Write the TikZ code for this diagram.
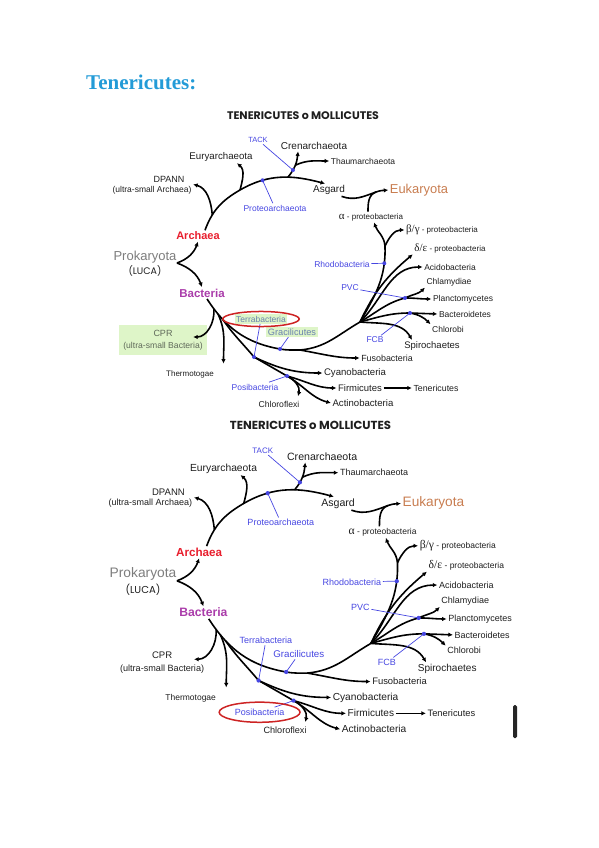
\documentclass[tikz,border=0pt]{standalone}
\usepackage{fontspec}
\setmainfont{Liberation Sans}
\newfontfamily\titlefont{Liberation Serif}
\newfontfamily\greekfont{Liberation Serif}
\newfontfamily\headfont{Poppins}
\usepackage{tikz}
\usetikzlibrary{arrows.meta, positioning, calc, fit, backgrounds, shapes.geometric}
\definecolor{cladeblue}{RGB}{70, 70, 225}
\definecolor{archred}{RGB}{232, 30, 45}
\definecolor{bactpurple}{RGB}{170, 60, 170}
\definecolor{eukbrown}{RGB}{200, 125, 80}
\definecolor{prokgray}{RGB}{125, 125, 125}
\definecolor{titleblue}{RGB}{35, 155, 215}
\definecolor{hlgreen}{RGB}{222, 245, 200}
\definecolor{hltext}{RGB}{105, 130, 175}
\definecolor{hlgray}{RGB}{95, 105, 90}
\definecolor{ringred}{RGB}{205, 35, 35}
\definecolor{leafgray}{RGB}{30, 30, 30}
\newcommand{\fsz}[1]{\fontsize{#1}{#1}\selectfont}

\tikzset{
  tree/.pic={
    % headline
    \node[head] (-head) at (303,-116) {TENERICUTES o MOLLICUTES};
    % big groups
    \node[leaf, font=\fsz{13}, text=prokgray] (-proka) at (145,-257) {Prokaryota};
    \node[leaf, font=\headfont\fsz{9.5}] (-luca) at (145,-271) {(LUCA)};
    \node[leaf, font=\bfseries\fsz{11}, text=archred] (-arch) at (198,-236) {Archaea};
    \node[leaf, font=\bfseries\fsz{11.5}, text=bactpurple] (-bact) at (202,-293) {Bacteria};
    \node[leaf, font=\fsz{12.9}, text=eukbrown] (-euk) at (419,-190) {Eukaryota};
    % archaea
    \node[leaf, font=\fsz{9}] (-dpann) at (169,-179) {DPANN};
    \node[leaf] (-dpann2) at (152,-190) {(ultra-small Archaea)};
    \node[leaf, font=\fsz{9.7}] (-eury) at (221,-157) {Euryarchaeota};
    \node[clade, font=\fsz{7.5}] (-tack) at (258,-140) {TACK};
    \node[leaf, font=\fsz{10}] (-cren) at (314,-146) {Crenarchaeota};
    \node[leaf] (-thaum) at (363,-161) {Thaumarchaeota};
    \node[clade] (-proteo) at (275,-208) {Proteoarchaeota};
    \node[leaf, font=\fsz{10}] (-asg) at (329,-190) {Asgard};
    % proteobacteria and friends
    \node[leaf, font=\fsz{8}] (-alpha) at (371,-217) {{\greekfont\fsz{11}α} - proteobacteria};
    \node[leaf, font=\fsz{8}] (-bg) at (442,-230) {{\greekfont\fsz{11}β/γ} - proteobacteria};
    \node[leaf, font=\fsz{8}] (-de) at (450,-248) {{\greekfont\fsz{11}δ/ε} - proteobacteria};
    \node[clade] (-rhodo) at (342,-264) {Rhodobacteria};
    \node[leaf] (-acido) at (450,-267) {Acidobacteria};
    \node[leaf] (-chlam) at (449,-282) {Chlamydiae};
    \node[leaf] (-planc) at (463,-299) {Planctomycetes};
    \node[clade] (-pvc) at (350,-288) {PVC};
    \node[leaf] (-bactd) at (465,-314) {Bacteroidetes};
    \node[leaf] (-chlorobi) at (448,-329) {Chlorobi};
    \node[clade] (-fcb) at (375,-340) {FCB};
    \node[leaf, font=\fsz{9.5}] (-spiro) at (432,-346) {Spirochaetes};
    \node[leaf, font=\fsz{8.9}] (-fuso) at (387,-358) {Fusobacteria};
    \node[leaf, font=\fsz{9.6}] (-cyano) at (355,-373) {Cyanobacteria};
    \node[leaf, font=\fsz{9.5}] (-firmi) at (360,-388) {Firmicutes};
    \node[leaf, font=\fsz{8.8}] (-tener) at (436,-388) {Tenericutes};
    \node[leaf, font=\fsz{9.6}] (-actino) at (363,-403) {Actinobacteria};
    \node[leaf, font=\fsz{8.6}] (-chloro) at (279,-404) {Chloroflexi};
    \node[clade] (-posi) at (255,-387) {Posibacteria};
    \node[leaf, font=\fsz{8}] (-thermo) at (190,-374) {Thermotogae};
    \node[cprlbl, font=\fsz{9}] (-cpr) at (163,-333) {CPR};
    \node[cprlbl, font=\fsz{8.6}] (-cpr2) at (163,-346) {(ultra-small Bacteria)};
    \node[terralbl] (-terra) at (261,-319) {Terrabacteria};
    \node[terralbl, font=\fsz{9.2}] (-graci) at (292,-332) {Gracilicutes};
    % junctions
    \coordinate (-root) at (177,-263);
    \coordinate (-ar2) at (240,-190);
    \coordinate (-ek) at (376,-192);
    \coordinate (-pf) at (385,-246);
    \coordinate (-hub) at (360,-322);
    \coordinate (-pvcdot) at (405,-298);
    \coordinate (-fcbdot) at (410,-313);
    \coordinate (-gdot) at (280,-349);
    \coordinate (-bj) at (300,-350);
    \coordinate (-terradot) at (254,-357);
    \coordinate (-posidot) at (287,-376);
    % root split
    \draw[arrow] (-root) to[out=20,in=-110] (-arch.south);
    \draw[arrow] (-root) to[out=-20,in=110] (-bact.north);
    % archaea
    \draw[arrow] ([xshift=7pt]-arch.north) to[out=70,in=-150] coordinate[pos=.3] (-ar1) (-ar2)
      to[out=30,in=165] coordinate[pos=.27] (-pdot) coordinate[pos=.58] (-ar3) ([xshift=-4pt]-asg.north);
    \draw[arrow] (-ar1) to[out=95,in=-15] (-dpann2.north east);
    \draw[arrow] (-ar2) to[out=75,in=-40] ([xshift=16pt]-eury.south);
    \draw[arrow] (-ar3) to[out=50,in=-95] coordinate[pos=.3] (-tdot) coordinate[pos=.5] (-tfork) ([xshift=-16pt]-cren.south);
    \draw[arrow] (-tfork) to[out=25,in=180] (-thaum.west);
    \draw[arrow] ([xshift=-5pt]-asg.south east) to[out=-20,in=200] (-ek) to[out=20,in=185] (-euk.west);
    \draw[branch] ([xshift=-3pt]-alpha.north) to[out=90,in=200] (-ek);
    % proteobacteria
    \draw[arrow] (-hub) to[out=60,in=-88] coordinate[pos=.8] (-rdot) (-pf) to[out=95,in=-70] ([xshift=3pt]-alpha.south);
    \draw[arrow] (-pf) to[out=65,in=180] (-bg.west);
    \draw[arrow] (-hub) to[out=65,in=-140] (-de.south west);
    \draw[arrow] (-hub) to[out=45,in=180] (-acido.west);
    \draw[branch] (-hub) to[out=30,in=195] (-pvcdot);
    \draw[arrow] (-pvcdot) to[out=25,in=-135] (-chlam.south west);
    \draw[arrow] (-pvcdot) to[out=0,in=180] (-planc.west);
    \draw[branch] (-hub) to[out=15,in=180] (-fcbdot);
    \draw[arrow] (-fcbdot) -- (-bactd.west);
    \draw[arrow] (-fcbdot) to[out=-10,in=135] (-chlorobi.north west);
    \draw[arrow] (-hub) to[out=-5,in=120] ([xshift=-20pt]-spiro.north);
    % bacteria
    \draw[branch] ([xshift=5pt]-bact.south) to[out=-57,in=170] coordinate[pos=.12] (-b1) coordinate[pos=.19] (-b2) coordinate[pos=.27] (-b3) (-gdot)
      to[out=-10,in=180] (-bj) to[out=5,in=-150] (-hub);
    \draw[arrow] (-bj) to[out=-10,in=180] (-fuso.west);
    \draw[arrow] (-b1) to[out=-85,in=0] ([shift={(19pt,-4pt)}]-cpr.east);
    \draw[arrow] (-b2) to[out=-65,in=90] ([shift={(8pt,5pt)}]-thermo.north east);
    \draw[branch] (-b3) to[out=-55,in=130] (-terradot);
    \draw[arrow] (-terradot) to[out=-25,in=180] (-cyano.west);
    \draw[branch] (-terradot) to[out=-30,in=150] (-posidot);
    \draw[arrow] (-posidot) to[out=-15,in=180] (-firmi.west);
    \draw[arrow] (-posidot) to[out=-30,in=165] (-actino.west);
    \draw[arrow] (-posidot) to[out=-25,in=75] ([shift={(-3pt,3pt)}]-chloro.north east);
    \draw[arrow] (-firmi.east) -- (-tener.west);
    % blue pointers
    \draw[pointer] (-tack) -- (-tdot);
    \draw[pointer] (-proteo) -- (-pdot);
    \draw[pointer] (-rhodo) -- (-rdot);
    \draw[pointer] (-pvc) -- (-pvcdot);
    \draw[pointer] (-fcb) -- (-fcbdot);
    \draw[pointer] (-terra) -- (-terradot);
    \draw[pointer] (-graci) -- (-gdot);
    \draw[pointer] (-posi) -- (-posidot);
    \foreach \d in {tdot,pdot,rdot,pvcdot,fcbdot,gdot,terradot,posidot}
      \fill[cladeblue] (-\d) circle (2pt);
  }
}

\begin{document}
\begin{tikzpicture}[
    x=1pt, y=1pt,
    leaf/.style={font=\fsz{8.5}, text=leafgray, inner sep=1.5pt},
    clade/.style={leaf, text=cladeblue},
    terralbl/.style={clade},
    cprlbl/.style={leaf},
    head/.style={font=\headfont\bfseries\fsz{11}, text=leafgray, inner sep=1pt},
    branch/.style={line width=1.6pt, black},
    arrow/.style={branch, -{Latex[length=4.5pt, width=4.5pt]}},
    pointer/.style={cladeblue, line width=0.7pt},
    ring/.style={ellipse, draw=ringred, line width=1.5pt, inner sep=0.5pt},
    hlbox/.style={rectangle, fill=hlgreen, inner sep=3pt}
  ]
  \useasboundingbox (0,0) rectangle (599,-848);
  \node[font=\titlefont\bfseries\fsz{21}, text=titleblue, anchor=base west, inner sep=0pt] (title) at (86,-90) {Tenericutes:};

  \pic[terralbl/.style={clade, text=hltext, fill=hlgreen}, cprlbl/.style={leaf, text=hlgray}] (t) at (0,0) {tree};
  \pic[scale=1.06, transform shape] (b) at (-10.7,-302) {tree};

  \begin{scope}[on background layer]
    \node[hlbox, fit=(t-cpr)(t-cpr2)] (t-cprbox) {};
  \end{scope}
  \node[ring, fit=(t-terra)] (t-ring) {};
  \node[ring, fit=(b-posi), inner sep=2pt] (b-ring) {};

  \fill[black!85, rounded corners=1.5pt] (513,-705) rectangle (517,-738);
\end{tikzpicture}
\end{document}
